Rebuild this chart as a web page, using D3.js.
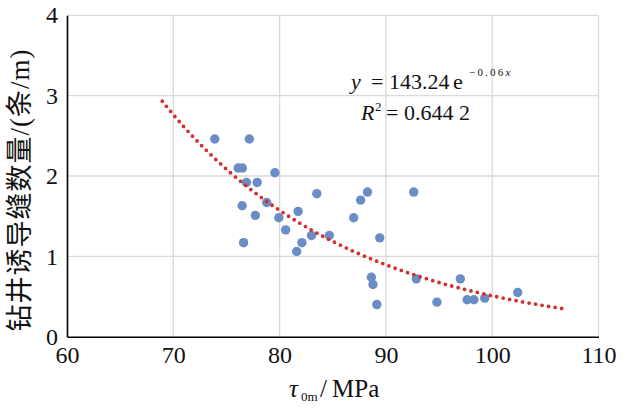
<!DOCTYPE html>
<html>
<head>
<meta charset="utf-8">
<script src="https://cdn.jsdelivr.net/npm/d3@7"></script>
<style>
  html, body { margin: 0; padding: 0; background: #ffffff; }
  svg { display: block; }
  svg text { font-family: "Liberation Serif", "Tinos", "Times New Roman", "DejaVu Serif", serif; }
  svg text.cjk { font-family: "Liberation Serif", "Noto Sans CJK SC", serif; }
</style>
</head>
<body>
<svg id="chart" width="629" height="409"></svg>
<script>
// ---- data ----
const tauValues = [73.9, 77.15, 76.1, 76.5, 79.56, 76.88, 77.89, 83.5, 88.27, 92.62,
                   87.62, 78.79, 76.48, 81.74, 77.72, 79.93, 86.97, 80.57, 83.0, 84.68,
                   89.42, 82.1, 76.61, 81.61, 88.63, 92.86, 97.0, 88.78, 102.4, 99.3,
                   97.64, 98.28, 94.8, 89.15];
const fractureCounts = [2.46, 2.46, 2.10, 2.10, 2.04, 1.92, 1.92, 1.78, 1.80, 1.80,
                        1.70, 1.67, 1.63, 1.56, 1.51, 1.48, 1.48, 1.33, 1.26, 1.26,
                        1.23, 1.17, 1.17, 1.06, 0.74, 0.72, 0.72, 0.65, 0.55, 0.48,
                        0.46, 0.46, 0.43, 0.40];
const xTicks = [60, 70, 80, 90, 100, 110];
const yTicks = [0, 1, 2, 3, 4];
const trendCoefA = 143.24;      // shown as 143.24
const trendCoefK = 0.0564;      // shown rounded as 0.06
const trendRange = [68.96, 106.7];
const yTitle = "钻井诱导缝数量/(条/m)";

// ---- layout ----
const svg = d3.select("#chart");
const x = d3.scaleLinear().domain([60, 110]).range([67, 598.5]);
const y = d3.scaleLinear().domain([0, 4]).range([336.7, 15.3]);

// gridlines
svg.append("g").selectAll("line.v").data(xTicks.slice(1)).join("line")
  .attr("x1", d => x(d)).attr("x2", d => x(d))
  .attr("y1", y(0)).attr("y2", y(4))
  .attr("stroke", "#d9d9d9").attr("stroke-width", 1.3);
svg.append("g").selectAll("line.h").data(yTicks.slice(1)).join("line")
  .attr("x1", x(60)).attr("x2", x(110))
  .attr("y1", d => y(d)).attr("y2", d => y(d))
  .attr("stroke", "#d9d9d9").attr("stroke-width", 1.3);

// axes
const gx = svg.append("g").attr("transform", `translate(0,${y(0)})`)
  .call(d3.axisBottom(x).tickValues(xTicks).tickSize(0).tickPadding(9.5).tickFormat(d3.format("d")));
const gy = svg.append("g").attr("transform", `translate(${x(60)},0)`)
  .call(d3.axisLeft(y).tickValues(yTicks).tickSize(0).tickPadding(9).tickFormat(d3.format("d")));
[gx, gy].forEach(g => {
  g.attr("font-family", null).attr("font-size", null);
  g.select(".domain").attr("stroke", "#000").attr("stroke-width", 1.6);
  g.selectAll("text").style("font-size", "24px").attr("fill", "#111");
});

// points
svg.append("g").selectAll("circle").data(tauValues.map((t, i) => [t, fractureCounts[i]])).join("circle")
  .attr("cx", d => x(d[0])).attr("cy", d => y(d[1])).attr("r", 4.7)
  .attr("fill", "#6a8dc6");

// trendline (from the displayed fit equation)
const trendX = d3.range(trendRange[0], trendRange[1] + 0.001, 0.1);
const line = d3.line().x(d => x(d)).y(d => y(trendCoefA * Math.exp(-trendCoefK * d)));
svg.append("path").datum(trendX).attr("d", line)
  .attr("fill", "none").attr("stroke", "#d42f2a").attr("stroke-width", 3.8)
  .attr("stroke-linecap", "round").attr("stroke-dasharray", "0,6.6");

// equation
const eq = svg.append("g").attr("fill", "#111");
function t(g, xp, yp, size, str, italic) {
  return g.append("text").attr("x", xp).attr("y", yp).style("font-size", size + "px")
    .style("font-style", italic ? "italic" : "normal").text(str);
}
t(eq, 351, 89, 22, "y", true);
t(eq, 371, 89, 22, "=");
t(eq, 389, 89, 22, "143.24");
t(eq, 453, 89, 22, "e");
const sup = eq.append("text").attr("x", 469).attr("y", 76).style("font-size", "11px").attr("letter-spacing", 2.2);
sup.append("tspan").text("−0.06");
sup.append("tspan").style("font-style", "italic").text("x");
t(eq, 361, 120, 22, "R", true);
t(eq, 375, 111, 13, "2");
t(eq, 386, 120, 22, "=");
t(eq, 404, 120, 22, "0.644 2");

// x title
const xt = svg.append("g").attr("fill", "#111");
t(xt, 289, 396.5, 25, "τ", true);
t(xt, 301, 401, 13, "0m");
t(xt, 320, 396.5, 25, "/");
t(xt, 332, 396.5, 25, "MPa");

// y title
svg.append("text").attr("class", "cjk")
  .attr("transform", "translate(20,190) rotate(-90)")
  .attr("text-anchor", "middle").attr("dominant-baseline", "central")
  .style("font-size", "27px").attr("letter-spacing", 1).attr("fill", "#111")
  .text(yTitle);
</script>
</body>
</html>
